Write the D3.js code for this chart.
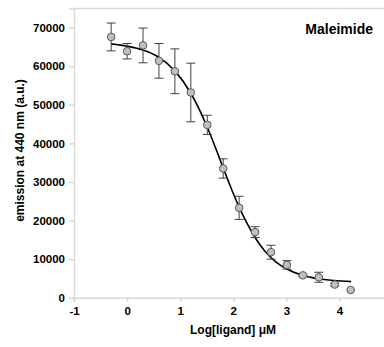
<!DOCTYPE html>
<html lang="en">
<head>
    <meta charset="UTF-8">
    <title>Maleimide</title>
    <script src="https://d3js.org/d3.v7.min.js"></script>
    <style>
        body { margin: 0; background: #fff; }
        text { font-family: "Liberation Sans", Arial, sans-serif; font-weight: bold; fill: #000; }
    </style>
</head>
<body>
    <svg id="chart" width="384" height="347"></svg>
    <script>
    // measured points: log[ligand], mean emission, error (+/-)
    const logConc = [-0.30, 0.00, 0.30, 0.60, 0.90, 1.20, 1.51, 1.81, 2.11, 2.41, 2.71, 3.01, 3.31, 3.61, 3.91, 4.21]
    const emission = [67600, 63900, 65400, 61400, 58700, 53200, 44800, 33500, 23300, 17000, 11800, 8500, 5800, 5300, 3400, 2000]
    const errors = [3600, 2000, 4500, 4500, 5800, 7600, 2500, 2500, 3000, 1400, 1800, 1100, 300, 1300, 400, 0]

    // fitted curve
    const fitX = [-0.30, 0.00, 0.30, 0.60, 0.90, 1.20, 1.35, 1.50, 1.65, 1.80, 1.95, 2.10, 2.25, 2.40, 2.60, 2.80, 3.00, 3.30, 3.60, 3.90, 4.22]
    const fitY = [65800, 65200, 64200, 62300, 58800, 53000, 49100, 44500, 39400, 34000, 28700, 23800, 19500, 15800, 12000, 9300, 7500, 5800, 4900, 4450, 4200]

    const xTicks = [-1, 0, 1, 2, 3, 4]
    const yTicks = [0, 10000, 20000, 30000, 40000, 50000, 60000, 70000]

    const svg = d3.select('#chart')
    const x = d3.scaleLinear().domain([-1, 5]).range([74, 392.6])
    const y = d3.scaleLinear().domain([0, 75000]).range([297.7, 8.4])
    const grey = '#d9d9d9'

    // frame (right side runs past the window)
    svg.append('line').attr('x1', 74).attr('x2', 384).attr('y1', y(75000)).attr('y2', y(75000))
        .attr('stroke', grey).attr('stroke-width', 1.5)

    const xAxis = svg.append('g')
        .attr('transform', `translate(0,${y(0)})`)
        .call(d3.axisBottom(x).tickValues(xTicks).tickSize(4).tickPadding(5).tickFormat(d => String(d)))
    xAxis.select('.domain').attr('stroke', grey).attr('stroke-width', 1.5)
    xAxis.selectAll('.tick line').attr('stroke', grey).attr('stroke-width', 1.5)
    xAxis.selectAll('text').attr('font-size', 11.5).attr('font-family', 'Liberation Sans').attr('font-weight', 'bold').attr('fill', '#000')

    const yAxis = svg.append('g')
        .attr('transform', `translate(${x(-1)},0)`)
        .call(d3.axisLeft(y).tickValues(yTicks).tickSize(5).tickPadding(4).tickFormat(d => String(d)))
    yAxis.select('.domain').attr('stroke', grey).attr('stroke-width', 1.5)
    yAxis.selectAll('.tick line').attr('stroke', grey).attr('stroke-width', 1.5)
    yAxis.selectAll('text').attr('font-size', 11.5).attr('font-family', 'Liberation Sans').attr('font-weight', 'bold').attr('fill', '#000')

    // fitted line
    const line = d3.line().x(d => x(d[0])).y(d => y(d[1])).curve(d3.curveMonotoneX)
    svg.append('path')
        .datum(d3.zip(fitX, fitY))
        .attr('d', line)
        .attr('fill', 'none')
        .attr('stroke', '#000')
        .attr('stroke-width', 1.6)

    // error bars
    const pts = logConc.map((v, i) => ({ x: v, y: emission[i], e: errors[i] }))
    const bars = svg.append('g').selectAll('g').data(pts.filter(d => d.e > 0)).enter().append('g')
        .attr('stroke', '#404040').attr('stroke-width', 1)
    bars.append('line')
        .attr('x1', d => x(d.x)).attr('x2', d => x(d.x))
        .attr('y1', d => y(d.y - d.e)).attr('y2', d => y(d.y + d.e))
    bars.append('line')
        .attr('x1', d => x(d.x) - 4.5).attr('x2', d => x(d.x) + 4.5)
        .attr('y1', d => y(d.y + d.e)).attr('y2', d => y(d.y + d.e))
    bars.append('line')
        .attr('x1', d => x(d.x) - 4.5).attr('x2', d => x(d.x) + 4.5)
        .attr('y1', d => y(d.y - d.e)).attr('y2', d => y(d.y - d.e))

    // markers
    svg.append('g').selectAll('circle').data(pts).enter().append('circle')
        .attr('cx', d => x(d.x))
        .attr('cy', d => y(d.y))
        .attr('r', 3.8)
        .attr('fill', '#bfbfbf')
        .attr('stroke', '#595959')
        .attr('stroke-width', 1)

    // labels
    svg.append('text').attr('x', 373).attr('y', 34).attr('text-anchor', 'end')
        .attr('font-size', 14).text('Maleimide')
    svg.append('text').attr('x', 233).attr('y', 334).attr('text-anchor', 'middle')
        .attr('font-size', 12).text('Log[ligand] μM')
    svg.append('text').attr('transform', 'translate(24,150.5) rotate(-90)').attr('text-anchor', 'middle')
        .attr('font-size', 12).text('emission at 440 nm (a.u.)')
    </script>
</body>
</html>
